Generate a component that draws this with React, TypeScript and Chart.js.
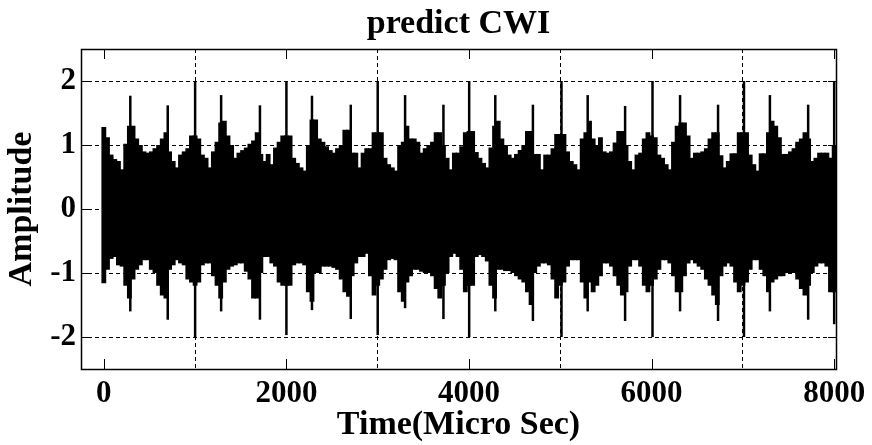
import { useEffect, useRef } from "react";
import { Chart, registerables } from "chart.js";

Chart.register(...registerables);

const TITLE = "predict CWI";
const X_LABEL = "Time(Micro Sec)";
const Y_LABEL = "Amplitude";
const X_TICKS = [0, 2000, 4000, 6000, 8000];
const Y_TICKS = [-2, -1, 0, 1, 2];
const X_MIN = -250;
const X_MAX = 8020;
const Y_MIN = -2.5;
const Y_MAX = 2.5;

// envelope of the signal, sampled every SAMPLE_STEP_US microseconds (0 .. 8000)
const SAMPLE_STEP_US = 40;

const envelopeHigh = [
  // 0 - 960
  1.28, 1.12, 0.85, 0.78, 0.75, 0.62, 1.02, 1.3, 1.3, 1.1, 1.0, 0.9, 0.88, 0.9, 0.95, 1.0, 1.1, 1.2, 0.9, 0.75, 0.65, 0.85, 0.9, 0.95, 1.15,
  // 1000 - 1960
  1.15, 1.1, 0.85, 0.8, 0.65, 0.9, 1.05, 1.35, 1.38, 1.15, 1.0, 0.8, 0.88, 0.92, 0.96, 1.02, 1.07, 1.2, 0.86, 0.75, 0.86, 0.7, 0.96, 1.05, 1.15,
  // 2000 - 2960
  1.15, 1.15, 0.8, 0.72, 0.65, 0.6, 1.0, 1.4, 1.4, 1.1, 1.05, 0.98, 0.92, 0.88, 0.95, 1.0, 1.24, 1.24, 0.88, 0.88, 0.65, 0.88, 0.95, 0.95, 1.2,
  // 3000 - 3960
  1.2, 1.2, 0.8, 0.7, 0.65, 0.6, 1.0, 1.05, 1.3, 1.1, 1.1, 1.05, 0.88, 0.95, 1.0, 1.05, 1.2, 1.2, 1.0, 0.8, 0.62, 0.88, 0.88, 0.98, 1.2,
  // 4000 - 4960
  1.22, 1.22, 0.89, 0.8, 0.72, 0.65, 0.96, 1.3, 1.38, 1.1, 1.0, 0.85, 0.8, 0.86, 0.92, 1.0, 1.22, 1.22, 0.86, 0.86, 0.62, 0.85, 0.85, 0.95, 1.17,
  // 5000 - 5960
  1.17, 1.17, 0.9, 0.75, 0.7, 0.62, 1.1, 1.2, 1.38, 1.1, 1.0, 1.12, 0.9, 0.88, 0.9, 1.04, 1.22, 1.22, 1.0, 0.75, 0.62, 0.85, 0.88, 1.1, 1.2,
  // 6000 - 6960
  1.15, 1.12, 0.85, 0.8, 0.7, 0.62, 1.05, 1.3, 1.35, 1.35, 1.15, 0.8, 0.88, 0.88, 0.9, 0.95, 1.1, 1.2, 1.2, 0.84, 0.65, 0.75, 0.87, 0.87, 1.2,
  // 7000 - 7960
  1.2, 1.2, 0.85, 0.7, 0.6, 0.87, 0.87, 1.2, 1.38, 1.3, 1.12, 0.86, 0.86, 0.9, 0.95, 1.05, 1.1, 1.2, 1.1, 0.75, 0.8, 0.88, 0.88, 0.88, 0.8,
  // 8000
  1.0,
];

const envelopeLow = [
  // 0 - 960
  -1.16, -0.95, -0.78, -0.75, -0.88, -0.9, -1.2, -1.4, -1.1, -0.95, -0.88, -0.8, -0.8, -0.95, -1.0, -1.2, -1.35, -1.4, -0.95, -0.88, -0.8, -0.85, -0.88, -1.1, -1.15,
  // 1000 - 1960
  -1.2, -1.15, -0.88, -0.85, -0.85, -1.05, -1.2, -1.4, -1.15, -0.95, -0.9, -0.88, -0.85, -0.85, -0.98, -1.1, -1.4, -1.4, -1.0, -0.75, -0.75, -0.85, -0.9, -1.15, -1.2,
  // 2000 - 2960
  -1.2, -1.2, -0.88, -0.85, -0.85, -0.88, -1.3, -1.45, -1.0, -1.0, -0.9, -0.9, -0.9, -0.92, -0.95, -1.1, -1.3, -1.37, -1.05, -0.85, -0.75, -0.75, -0.7, -1.05, -1.35,
  // 3000 - 3960
  -1.2, -1.1, -0.95, -0.8, -0.78, -0.8, -1.3, -1.45, -1.15, -1.05, -0.95, -0.95, -0.98, -1.0, -1.0, -1.05, -1.25, -1.4, -1.2, -1.0, -0.75, -0.7, -0.75, -0.95, -1.3,
  // 4000 - 4960
  -1.2, -1.2, -0.75, -0.72, -0.75, -0.82, -1.2, -1.4, -0.95, -0.95, -0.97, -0.97, -1.0, -1.05, -1.1, -1.15, -1.3, -1.5, -1.0, -0.9, -0.85, -0.85, -0.88, -1.1, -1.4,
  // 5000 - 5960
  -1.2, -1.15, -0.9, -0.8, -0.8, -0.8, -1.15, -1.4, -1.15, -1.3, -1.2, -1.05, -0.85, -0.85, -0.9, -1.05, -1.2, -1.35, -1.3, -0.9, -0.8, -0.8, -0.9, -1.2, -1.3,
  // 6000 - 6960
  -1.2, -1.1, -0.95, -0.8, -0.8, -0.85, -1.05, -1.3, -1.3, -1.05, -0.85, -0.8, -0.85, -0.9, -0.95, -1.1, -1.2, -1.35, -1.5, -1.05, -0.9, -0.85, -0.9, -1.15, -1.3,
  // 7000 - 7960
  -1.2, -1.15, -0.95, -0.8, -0.8, -0.95, -1.05, -1.3, -1.15, -1.1, -1.05, -1.05, -1.0, -1.0, -1.0, -1.1, -1.25, -1.35, -1.2, -1.0, -0.9, -0.85, -0.85, -0.9, -1.3,
  // 8000
  -1.3,
];

// sharp peaks of the signal
const spikeTimes = [
  290, 700, 1000, 1285, 1710, 2000, 2280, 2705, 3000, 3300, 3720, 4002,
  4288, 4700, 5013, 5300, 5710, 6010, 6312, 6728, 7012, 7296, 7715, 8000,
];
const spikeHigh = [
  1.77, 1.62, 2.0, 1.78, 1.62, 2.0, 1.77, 1.63, 2.0, 1.78, 1.63, 2.0,
  1.78, 1.63, 2.0, 1.78, 1.61, 2.0, 1.78, 1.63, 2.0, 1.78, 1.63, 2.0,
];
const spikeLow = [
  -1.6, -1.73, -2.0, -1.6, -1.73, -1.97, -1.58, -1.72, -1.97, -1.55, -1.72, -2.0,
  -1.6, -1.75, -2.0, -1.6, -1.75, -2.0, -1.6, -1.75, -2.0, -1.6, -1.73, -1.8,
];

const FONT_FAMILY = "'Liberation Serif', 'Times New Roman', serif";

const framePlugin = {
  id: "matlabFrame",
  afterDraw(chart: any) {
    const { ctx, chartArea, scales } = chart;
    const { left, right, top, bottom } = chartArea;
    ctx.save();
    ctx.setLineDash([]);
    ctx.strokeStyle = "#000";
    ctx.lineWidth = 1;
    const line = (x1: number, y1: number, x2: number, y2: number) => {
      ctx.beginPath();
      ctx.moveTo(x1, y1);
      ctx.lineTo(x2, y2);
      ctx.stroke();
    };
    X_TICKS.forEach((v) => {
      const px = Math.round(scales.x.getPixelForValue(v)) + 0.5;
      line(px, bottom, px, bottom - 10);
      line(px, top, px, top + 10);
    });
    Y_TICKS.forEach((v) => {
      const py = Math.round(scales.y.getPixelForValue(v)) + 0.5;
      line(left, py, left + 8, py);
      line(right, py, right - 8, py);
    });
    ctx.lineWidth = 1.5;
    ctx.strokeRect(Math.round(left) + 0.5, Math.round(top) + 0.5, Math.round(right - left), Math.round(bottom - top));
    ctx.restore();
  },
};

export default function App() {
  const canvasRef = useRef<HTMLCanvasElement | null>(null);

  useEffect(() => {
    const canvas = canvasRef.current;
    if (!canvas) return;

    const body = envelopeHigh.map((hi, i) => ({
      x: i * SAMPLE_STEP_US,
      y: [envelopeLow[i], hi],
    }));
    const spikes = spikeTimes.map((t, i) => ({ x: t, y: [spikeLow[i], spikeHigh[i]] }));

    const tickFont = { family: FONT_FAMILY, size: 31, weight: "bold" as const };
    const labelFont = { family: FONT_FAMILY, size: 34, weight: "bold" as const, lineHeight: 1.2 };

    // width of one sample step in pixels, taken from the x scale (slight overlap avoids seams)
    const stepWidth = (ctx: any) => {
      const x = ctx.chart.scales.x;
      return Math.abs(x.getPixelForValue(SAMPLE_STEP_US) - x.getPixelForValue(0)) + 1.2;
    };

    const chart = new Chart(canvas, {
      type: "bar",
      data: {
        datasets: [
          {
            label: "signal",
            data: body as any,
            backgroundColor: "#000",
            borderWidth: 0,
            barThickness: stepWidth,
            grouped: false,
            inflateAmount: 0,
          } as any,
          {
            label: "peaks",
            data: spikes as any,
            backgroundColor: "#000",
            borderWidth: 0,
            barThickness: 2.5,
            grouped: false,
            inflateAmount: 0,
          } as any,
        ],
      },
      options: {
        animation: false,
        responsive: false,
        maintainAspectRatio: false,
        layout: { padding: { left: 0, right: 36, top: 0, bottom: 0 } },
        plugins: {
          legend: { display: false },
          tooltip: { enabled: false },
          title: {
            display: true,
            text: TITLE,
            color: "#000",
            fullSize: false,
            font: labelFont,
            padding: { top: 4, bottom: 4.2 },
          },
        },
        scales: {
          x: {
            type: "linear",
            min: X_MIN,
            max: X_MAX,
            offset: false,
            afterBuildTicks: (s: any) => {
              s.ticks = X_TICKS.map((v) => ({ value: v }));
            },
            afterFit: (s: any) => {
              s.height = 76;
            },
            ticks: {
              color: "#000",
              font: tickFont,
              padding: 6,
              maxRotation: 0,
              autoSkip: false,
              callback: (v: any) => String(v),
            },
            grid: { color: "#000", lineWidth: 1, drawTicks: false },
            border: { display: false, dash: [4, 3] },
            title: {
              display: true,
              text: X_LABEL,
              color: "#000",
              font: labelFont,
              padding: { top: 0, bottom: -1 },
            },
          },
          y: {
            type: "linear",
            min: Y_MIN,
            max: Y_MAX,
            afterBuildTicks: (s: any) => {
              s.ticks = Y_TICKS.map((v) => ({ value: v }));
            },
            afterFit: (s: any) => {
              s.width = 81;
            },
            ticks: {
              color: "#000",
              font: tickFont,
              padding: 5,
              autoSkip: false,
              callback: (v: any) => String(v),
            },
            grid: { color: "#000", lineWidth: 1, drawTicks: false },
            border: { display: false, dash: [4, 3] },
            title: {
              display: true,
              text: Y_LABEL,
              color: "#000",
              font: labelFont,
              padding: { top: 2, bottom: 0 },
            },
          },
        },
      },
      plugins: [framePlugin],
    } as any);

    return () => chart.destroy();
  }, []);

  return (
    <div style={{ position: "absolute", left: 0, top: 0, width: 872, height: 445, background: "#fff" }}>
      <canvas ref={canvasRef} width={872} height={445} style={{ width: 872, height: 445, display: "block" }} />
    </div>
  );
}
